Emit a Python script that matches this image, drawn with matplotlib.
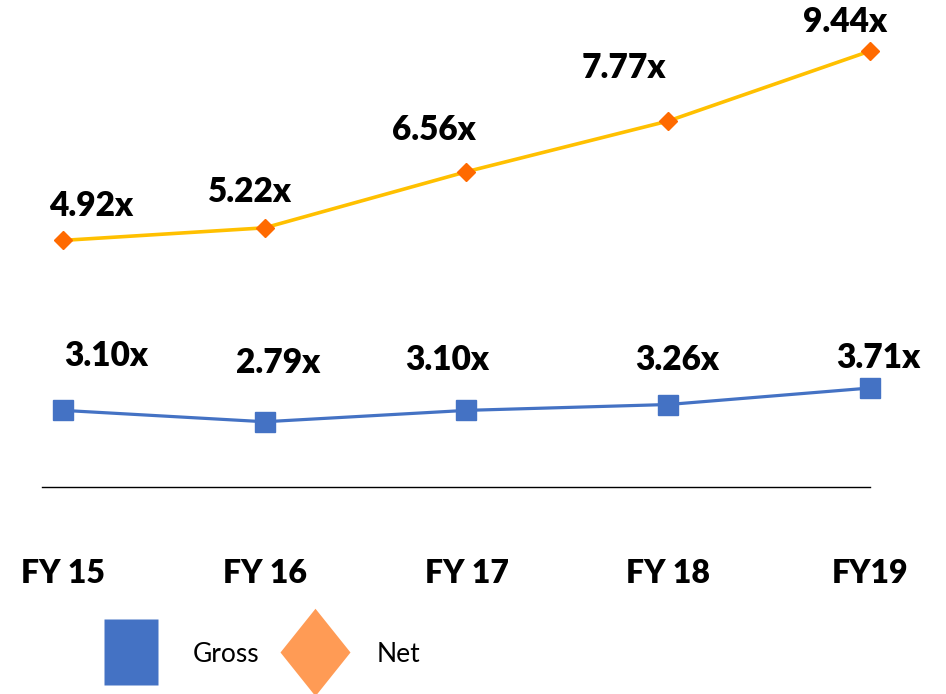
import matplotlib
matplotlib.use("Agg")
import matplotlib.pyplot as plt
from matplotlib.lines import Line2D

plt.rcParams['font.family'] = ['Lato', 'DejaVu Sans']

years = ["FY 15", "FY 16", "FY 17", "FY 18", "FY19"]
gross = [3.10, 2.79, 3.10, 3.26, 3.71]
net = [4.92, 5.22, 6.56, 7.77, 9.44]

# label offsets in pixels (dx, dy) from each point
gross_off = [(43, 44), (13, 49), (-19, 40), (9, 35), (8, 20)]
net_off = [(28, 24), (-15, 26), (-33, 32), (-44, 43), (-25, 19)]

blue = "#4472C4"
gold = "#FFC000"
orange = "#FF6A00"

fig = plt.figure(figsize=(9.46, 6.94), dpi=100)
ax = fig.add_axes([42/946, 1-487/694, 828/946, 467/694])
ax2 = ax.twinx()

x = list(range(len(years)))
ax.plot(x, gross, color=blue, lw=2.3, marker='s', ms=14, clip_on=False, zorder=3)
ax2.plot(x, net, color=gold, lw=2.6, marker='D', ms=9.5, mfc=orange, mec=orange,
         clip_on=False, zorder=3)

ax.set_xlim(-0.104, 3.98)
ax.set_ylim(1.011, 13.743)
ax2.set_ylim(-0.967, 10.181)

for xi, v, (dx, dy) in zip(x, gross, gross_off):
    ax.annotate(f"{v:.2f}x", (xi, v), xytext=(dx, dy), textcoords='offset pixels',
                ha='center', va='baseline', fontsize=24, fontweight='heavy')
for xi, v, (dx, dy) in zip(x, net, net_off):
    ax2.annotate(f"{v:.2f}x", (xi, v), xytext=(dx, dy), textcoords='offset pixels',
                 ha='center', va='baseline', fontsize=24, fontweight='heavy')

for a in (ax, ax2):
    for s in ['top', 'right', 'left']:
        a.spines[s].set_visible(False)
    a.set_yticks([])
ax2.spines['bottom'].set_visible(False)
ax.spines['bottom'].set_linewidth(1.0)

ax.set_xticks(x)
ax.set_xticklabels(years, fontsize=23, fontweight='heavy')
ax.tick_params(axis='x', length=0, pad=52)

sq = [(-0.83, -1), (0.83, -1), (0.83, 1), (-0.83, 1)]
dia = [(0, 1), (0.8, 0), (0, -1), (-0.8, 0)]
handles = [
    Line2D([], [], ls='none', marker=sq, ms=47, mfc=blue, mec='none'),
    Line2D([], [], ls='none', marker=dia, ms=63, mfc="#FF9B55", mec='none'),
]
fig.legend(handles, ["Gross", "Net"], loc='center left', bbox_to_anchor=(96/946, 1-654/694),
           ncol=2, frameon=False, fontsize=19, handlelength=2.65, handletextpad=1.0,
           columnspacing=0.8, borderpad=0, borderaxespad=0)

fig.savefig("out.png", dpi=100)
